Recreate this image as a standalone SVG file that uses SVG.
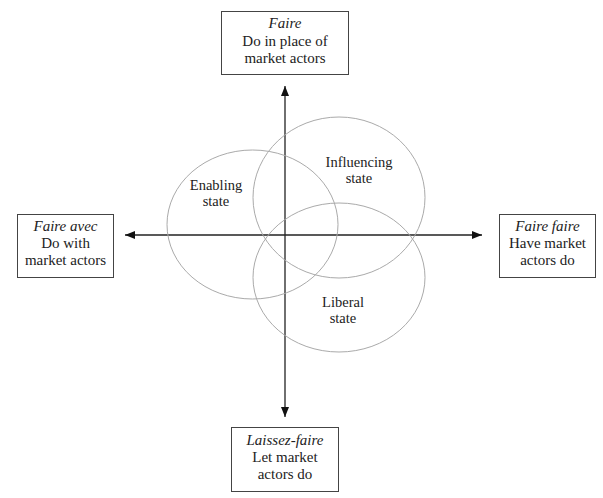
<svg xmlns="http://www.w3.org/2000/svg" width="603" height="498" viewBox="0 0 603 498">
<style>
.box{fill:#fff;stroke:#444;stroke-width:1}
.t{font-size:15px;fill:#222;text-anchor:middle}
.i{font-style:italic}
.s{font-size:14.5px;fill:#222;text-anchor:middle}
.ell{fill:none;stroke:#aaa;stroke-width:1}
.ax{stroke:#222;stroke-width:1.3;fill:none}
</style>
<defs>
<marker id="arr" markerWidth="10" markerHeight="8" refX="10" refY="4" orient="auto" markerUnits="userSpaceOnUse">
<path d="M0,0 L10,4 L0,8 Z" fill="#111"/>
</marker>
</defs>
<g id="connectors">
<line class="ax" x1="285" y1="235" x2="285" y2="86" marker-end="url(#arr)"/>
<line class="ax" x1="285" y1="235" x2="285" y2="417" marker-end="url(#arr)"/>
<line class="ax" x1="285" y1="235" x2="125" y2="235" marker-end="url(#arr)"/>
<line class="ax" x1="285" y1="235" x2="482" y2="235" marker-end="url(#arr)"/>
</g>
<g font-family="Liberation Serif, DejaVu Serif, serif">
<g id="enabling">
<ellipse class="ell" cx="252.5" cy="224.5" rx="85.5" ry="74.5"/>
<text class="s" x="216" y="190">Enabling</text>
<text class="s" x="216" y="206">state</text>
</g>
<g id="influencing">
<ellipse class="ell" cx="339" cy="197.5" rx="86" ry="80.5"/>
<text class="s" x="359" y="167">Influencing</text>
<text class="s" x="359" y="183">state</text>
</g>
<g id="liberal">
<ellipse class="ell" cx="339" cy="277.5" rx="86" ry="74.5"/>
<text class="s" x="343" y="307">Liberal</text>
<text class="s" x="343" y="323">state</text>
</g>
<g id="faire">
<rect class="box" x="221.5" y="11.5" width="127" height="63"/>
<text class="t i" x="285" y="28">Faire</text>
<text class="t" x="285" y="46">Do in place of</text>
<text class="t" x="285" y="63">market actors</text>
</g>
<g id="faire-avec">
<rect class="box" x="17.5" y="214.5" width="96" height="63"/>
<text class="t i" x="65.5" y="231">Faire avec</text>
<text class="t" x="65.5" y="248">Do with</text>
<text class="t" x="65.5" y="265">market actors</text>
</g>
<g id="faire-faire">
<rect class="box" x="499.5" y="214.5" width="96" height="63"/>
<text class="t i" x="547.5" y="231">Faire faire</text>
<text class="t" x="547.5" y="248">Have market</text>
<text class="t" x="547.5" y="265">actors do</text>
</g>
<g id="laissez-faire">
<rect class="box" x="231.5" y="427.5" width="107" height="64"/>
<text class="t i" x="285" y="445">Laissez-faire</text>
<text class="t" x="285" y="462">Let market</text>
<text class="t" x="285" y="479">actors do</text>
</g>
</g>
</svg>
